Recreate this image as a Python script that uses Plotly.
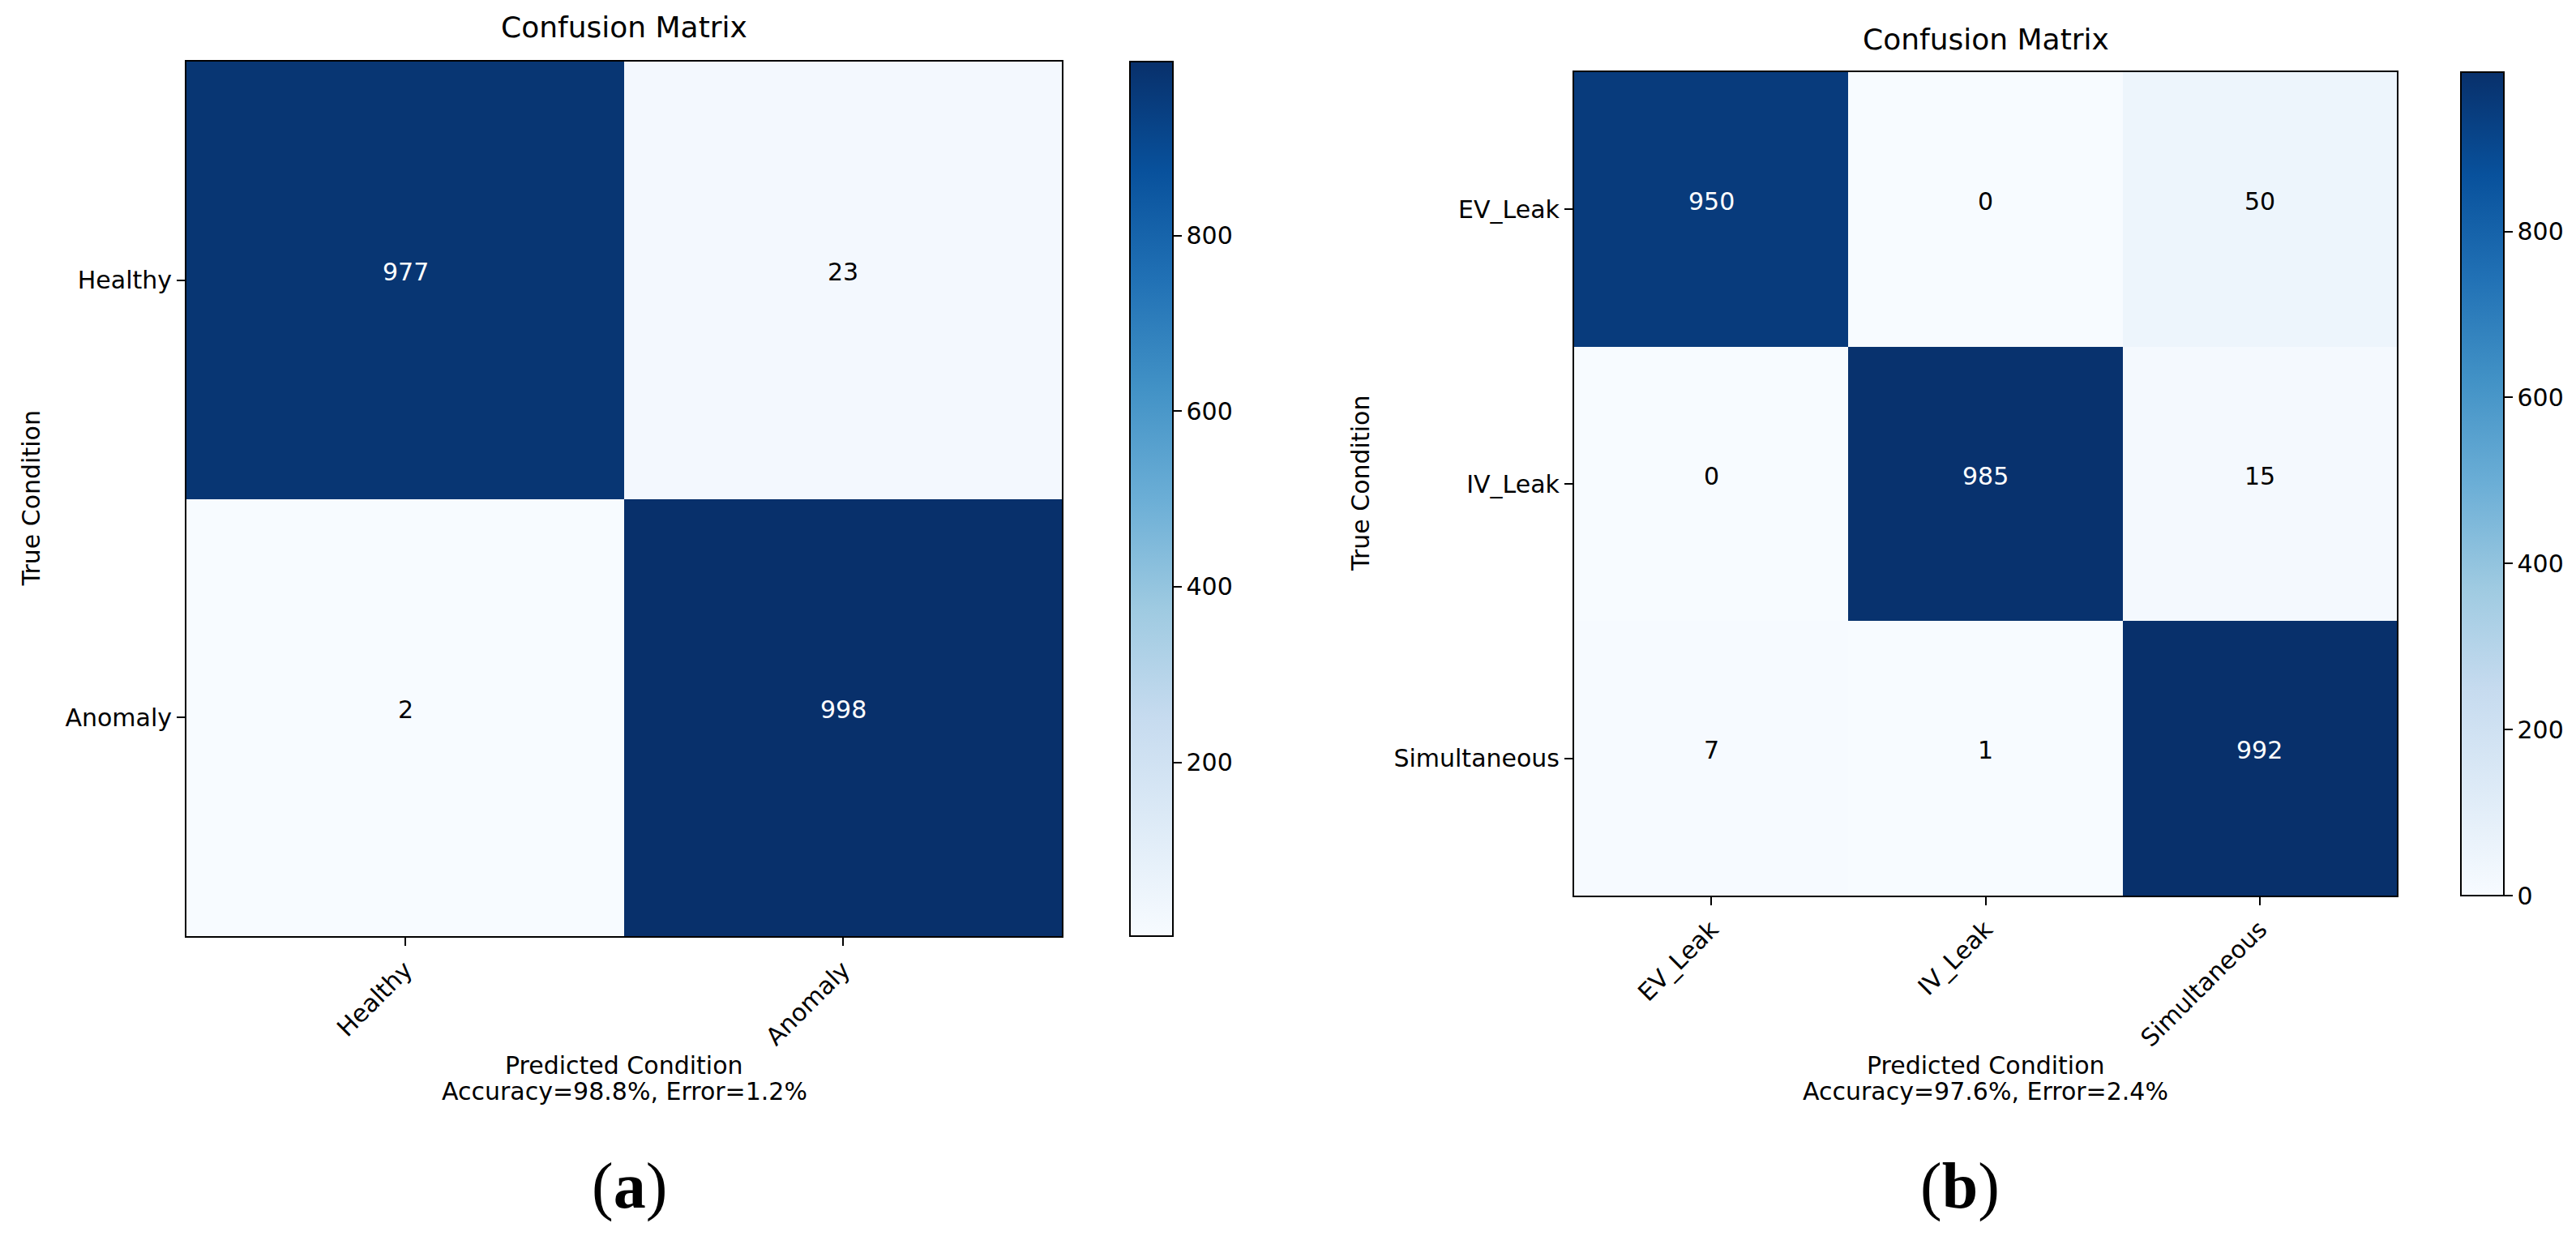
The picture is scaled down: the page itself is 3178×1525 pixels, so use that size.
import plotly.graph_objects as go

# ---------------- data ----------------
labels_a = ["Healthy", "Anomaly"]
values_a = [[977, 23],
            [2, 998]]
caption_a = ["Predicted Condition", "Accuracy=98.8%, Error=1.2%"]

labels_b = ["EV_Leak", "IV_Leak", "Simultaneous"]
values_b = [[950, 0, 50],
            [0, 985, 15],
            [7, 1, 992]]
caption_b = ["Predicted Condition", "Accuracy=97.6%, Error=2.4%"]

cbar_ticks = [0, 200, 400, 600, 800]

# ---------------- style ----------------
W, H = 3178, 1525
FONT = "DejaVu Sans"
BLUES = ["#f7fbff", "#deebf7", "#c6dbef", "#9ecae1", "#6baed6",
         "#4292c6", "#2171b5", "#08519c", "#08306b"]
cscale = [[i / (len(BLUES) - 1), c] for i, c in enumerate(BLUES)]


def px_x(x):
    return x / W


def px_y(y):
    return 1 - y / H


# panel pixel boxes (left, top, right, bottom) and colorbar x-range
panels = [
    dict(labels=labels_a, z=values_a, cap=caption_a, tag="(<b>a</b>)",
         box=(222, 68, 1302, 1147), cb=(1386, 1439), tag_x=768, ax="",
         title_y=26, ytitle_x=30),
    dict(labels=labels_b, z=values_b, cap=caption_b, tag="(<b>b</b>)",
         box=(1934, 81, 2949, 1097), cb=(3028, 3081), tag_x=2410, ax="2",
         title_y=40, ytitle_x=1670),
]

fig = go.Figure()
annotations = []
layout = dict(
    width=W, height=H, margin=dict(l=0, r=0, t=0, b=0),
    paper_bgcolor="white", plot_bgcolor="white",
    font=dict(family=FONT, size=30, color="black"),
    showlegend=False,
)

for p in panels:
    l, t, r, b = p["box"]
    labels, z = p["labels"], p["z"]
    flat = [v for row in z for v in row]
    zmin, zmax = min(flat), max(flat)
    xa = "x" + p["ax"]
    ya = "y" + p["ax"]
    fig.add_trace(go.Heatmap(
        z=z, x=labels, y=labels, xaxis=xa, yaxis=ya,
        colorscale=cscale, zmin=zmin, zmax=zmax,
        colorbar=dict(
            x=px_x(p["cb"][0]), xanchor="left", xpad=0, ypad=0,
            y=px_y(t), yanchor="top", len=(b - t) / H, lenmode="fraction",
            thickness=p["cb"][1] - p["cb"][0], thicknessmode="pixels",
            outlinecolor="black", outlinewidth=2,
            tickvals=cbar_ticks, ticks="outside", ticklen=10, tickwidth=2,
            tickcolor="black", tickfont=dict(family=FONT, size=30, color="black"),
        ),
        hoverinfo="skip",
    ))
    axis_common = dict(
        showline=True, mirror=True, linecolor="black", linewidth=2,
        ticks="outside", ticklen=10, tickwidth=2, tickcolor="black",
        showgrid=False, zeroline=False,
        tickfont=dict(family=FONT, size=30, color="black"),
        type="category",
    )
    layout["xaxis" + p["ax"]] = dict(axis_common, domain=[px_x(l), px_x(r)],
                                     anchor=ya, tickangle=-45)
    layout["yaxis" + p["ax"]] = dict(axis_common, domain=[px_y(b), px_y(t)],
                                     anchor=xa, autorange="reversed")
    thresh = zmax / 2
    for i, row_lab in enumerate(labels):
        for j, col_lab in enumerate(labels):
            v = z[i][j]
            annotations.append(dict(
                x=col_lab, y=row_lab, xref=xa, yref=ya, text=str(v),
                showarrow=False, yshift=10,
                font=dict(family=FONT, size=30,
                          color="white" if v > thresh else "black"),
            ))
    cx = (l + r) / 2
    cy = (t + b) / 2
    annotations.append(dict(x=px_x(cx), y=px_y(p["title_y"]), xref="paper", yref="paper",
                            text="Confusion Matrix", showarrow=False,
                            xanchor="center", yanchor="middle",
                            font=dict(family=FONT, size=36, color="black")))
    annotations.append(dict(x=px_x(p["ytitle_x"]), y=px_y(cy), xref="paper", yref="paper",
                            text="True Condition", textangle=-90, showarrow=False,
                            xanchor="center", yanchor="middle",
                            font=dict(family=FONT, size=30, color="black")))
    for k, line in enumerate(p["cap"]):
        annotations.append(dict(x=px_x(cx), y=px_y(1306 + 32 * k), xref="paper", yref="paper",
                                text=line, showarrow=False,
                                xanchor="center", yanchor="middle",
                                font=dict(family=FONT, size=30, color="black")))
    annotations.append(dict(x=px_x(p["tag_x"]), y=px_y(1455), xref="paper", yref="paper",
                            text=p["tag"], showarrow=False,
                            xanchor="center", yanchor="middle",
                            font=dict(family="Liberation Serif", size=80, color="black")))

layout["annotations"] = annotations
fig.update_layout(**layout)
fig.write_html("out.html")
